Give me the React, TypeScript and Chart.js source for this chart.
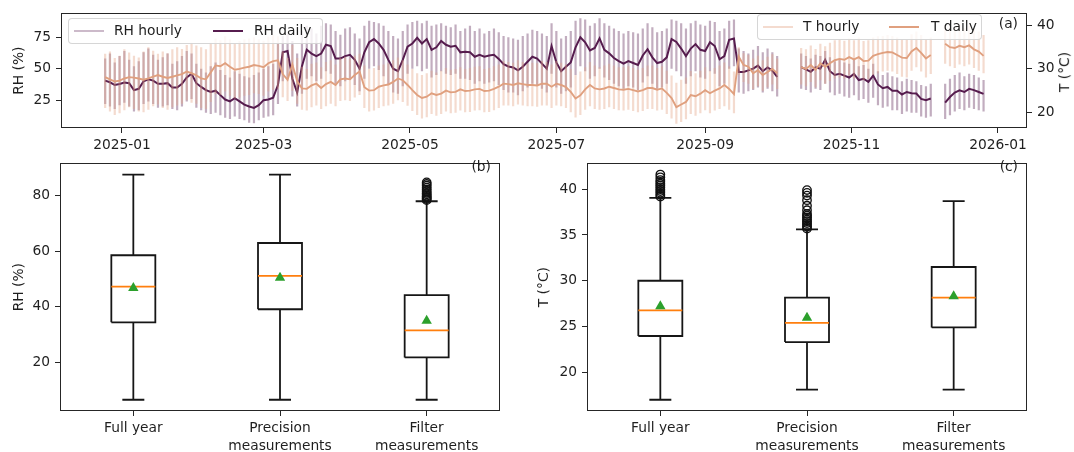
import React, { useEffect, useRef } from "react";
import { Chart, registerables } from "chart.js";

Chart.register(...registerables);

const FONT = "'DejaVu Sans', 'Liberation Sans', sans-serif";
const TEXT = "#1f1f1f";
const AXIS = "#262626";
const FONT_SIZE = 13.8;

// ---- Panel (a): time series, one sample every 2 days starting 2024-12-25 ----
// x values are days counted from 2025-01-01
const START_DAY = -7;
const STEP_DAYS = 2;
const MONTH_TICK_DAYS = [0, 59, 120, 181, 243, 304, 365];
const MONTH_TICK_LABELS = ["2025-01", "2025-03", "2025-05", "2025-07", "2025-09", "2025-11", "2026-01"];
const RH_TICKS = [25, 50, 75];
const T_TICKS = [20, 30, 40];
const SERIES_NAMES = ["RH hourly", "RH daily", "T hourly", "T daily"];

const RH_DAILY = [
  40.5, 39.2, 37, 37.8, 39, 38.5, 33, 34, 40, 41.5,
  40.5, 38, 38, 38.5, 35, 35, 38, 43, 46, 38.5,
  35.5, 33, 31.5, 32.5, 29, 25.5, 24, 26.5, 24, 21.5,
  20, 18.8, 21, 25, 25.5, 27, 37, 63, 64, 42,
  31, 52, 65, 62, 60, 62, 69, 68, 58, 58,
  60, 61, 57, 50, 63, 71, 73.5, 70, 65, 57,
  50, 48, 57, 67.5, 70, 74.5, 70, 73.5, 65, 67,
  72, 69, 67.5, 68.2, 63, 63.5, 63, 59.5, 61, 59.5,
  60.5, 61, 57.8, 53.5, 51.8, 51, 48.7, 51.5, 55.5, 59.5,
  58, 54, 50, 68, 55, 48, 51.5, 55, 67, 75,
  71, 64.5, 66.5, 74, 65, 62.2, 58.5, 56, 54, 56,
  54.5, 53, 60.5, 65.5, 59, 54.5, 55.5, 59, 73.5, 71.2,
  66, 60, 66, 69.5, 65, 64, 71, 68, 57.5, 60,
  73, 74, 47.4, 47.4, 48.7, 50, 52.5, 48, 51, 48.5,
  43.4, null, null, null, null, 51.3, 49.5, 47.5, 51, 50,
  57, 48, 45, 46, 44.5, 43, 45.8, 41, 42, 39.5,
  44.5, 37.5, 34.5, 35.5, 32.5, 32.5, 29.5, 31.5, 30.5, 30.3,
  26, 25, 26.3, null, null, 23, 27.5, 31, 32.8, 31.5,
  34, 33, 31.5, 30,
];

const RH_HOURLY_MAX = [
  58, 62, 55, 60, 64, 57, 52, 56, 63, 66,
  61, 57, 59, 62, 54, 56, 60, 64, 62, 54,
  50, 47, 52, 55, 49, 45, 43, 48, 46, 44,
  43, 45, 47, 50, 52, 54, 70, 76, 78, 72,
  62, 80, 84, 82, 78, 84, 86, 85, 80, 77,
  82, 83, 78, 74, 84, 88, 87, 86, 84, 80,
  76, 74, 80, 85, 87, 88, 86, 88, 84, 85,
  86, 84, 83, 85, 80, 82, 84, 80, 82, 78,
  80, 82, 79, 76, 75, 74, 73, 76, 78, 81,
  80, 78, 76, 86, 80, 74, 76, 80, 88, 90,
  89, 84, 86, 90, 86, 84, 82, 80, 78, 80,
  79, 78, 82, 86, 83, 79, 80, 82, 89, 88,
  86, 82, 86, 88, 85, 84, 88, 87, 80, 82,
  88, 89, 66, 64, 62, 65, 68, 63, 66, 63,
  60, null, null, null, null, 62, 60, 58, 61, 60,
  64, 59, 56, 57, 55, 54, 57, 52, 53, 50,
  54, 48, 45, 47, 44, 43, 40, 42, 41, 40,
  37, 36, 38, null, null, 38, 42, 45, 47, 44,
  46, 45, 43, 41,
];

const RH_HOURLY_MIN = [
  22, 20, 18, 21, 23, 20, 16, 17, 22, 24,
  22, 19, 20, 21, 18, 17, 20, 24, 26, 19,
  17, 15, 14, 15, 13, 11, 10, 12, 10, 9,
  7, 6.6, 9, 11, 12, 13, 22, 40, 42, 28,
  20, 30, 42, 44, 40, 42, 48, 46, 38, 36,
  40, 41, 37, 32, 42, 50, 52, 49, 44, 37,
  31, 30, 36, 46, 50, 52, 48, 50, 43, 45,
  48, 46, 45, 46, 42, 42, 41, 38, 40, 38,
  39, 40, 37, 33, 31, 31, 29, 32, 35, 38,
  37, 34, 31, 46, 35, 30, 32, 35, 45, 52,
  48, 42, 44, 50, 43, 41, 38, 36, 34, 36,
  35, 33, 39, 44, 38, 34, 35, 38, 50, 48,
  44, 38, 44, 48, 43, 42, 48, 46, 36, 38,
  50, 52, 31, 30, 32, 33, 35, 31, 34, 32,
  28, null, null, null, null, 34, 33, 31, 34, 33,
  38, 31, 29, 30, 28, 27, 29, 25, 26, 23,
  27, 21, 19, 20, 17, 17, 14, 16, 15, 15,
  12, 11, 12, null, null, 10, 13, 16, 18, 17,
  19, 18, 17, 16,
];

const T_DAILY = [
  28.1, 27.6, 27.1, 27.3, 27.8, 28.1, 28, 27.8, 27.5, 27.8,
  28.2, 28.6, 28.2, 27.9, 28.2, 28.5, 28.8, 29.4, 29, 28.5,
  27.8, 27.6, 29.2, 30.8, 30.6, 31.3, 30.5, 29.8, 30, 30.3,
  30.5, 30.9, 30.7, 30.4, 31.3, 31.8, 32, 28.8, 27.5, 31,
  27.2, 25.5, 25.4, 26.2, 26.6, 25.6, 26.5, 27, 26.3, 27.6,
  27.8, 27.6, 28.6, 29.4, 25.8, 25, 25.1, 25.9, 26.2, 26.4,
  27, 27.8, 27.4, 26.3, 25.1, 24, 23.3, 23.6, 24.4, 24,
  24.3, 25, 24.6, 24.7, 25.3, 24.9, 25, 25.3, 25.4, 24.9,
  25, 25.4, 25.9, 26.6, 26.5, 26.3, 26.7, 26.5, 26.3, 26.3,
  26.2, 26.6, 26.6, 25.9, 26.6, 26.3, 25.8, 24.7, 23.2, 23.9,
  25.3, 26.3, 25.5, 25.3, 25.5, 25.9, 25.6, 25.3, 25.2, 25.4,
  25.1, 24.8, 25.1, 25.6, 25.6, 25.2, 25.5, 24.5, 23.3, 21.2,
  21.8, 22.4, 24, 23.7, 24.3, 25.1, 24.4, 25, 25.5, 26.3,
  25.4, 24.2, 32.8, 30.9, 30.5, 29, 29.7, 28.6, 29.3, 30,
  29, null, null, null, null, 30.4, 30, 30.9, 29.8, 31.3,
  30.5, 31.3, 32, 32.3, 32.1, 32.7, 32.2, 32.7, 31.8, 31.9,
  33, 33.4, 33.7, 33.9, 33.8, 33.2, 32.6, 32.5, 34, 34.8,
  33.7, 32.4, 33.2, null, null, 35.8, 35, 34.8, 35.3, 35,
  35.4, 34.5, 34, 33,
];

const T_HOURLY_MAX = [
  33.5, 34, 32.5, 33, 34.5, 33.8, 33, 32.6, 34, 35,
  34.2, 33.5, 34, 33.6, 34.5, 35, 34.6, 35.5, 36, 35.4,
  35, 34.5, 36, 37, 36.6, 37.5, 36.8, 35.8, 36.4, 36.8,
  37, 37.3, 36.8, 36.5, 37.4, 37.8, 37.5, 34, 32.5, 35.5,
  32.5, 30.5, 30, 31.2, 31.5, 30.4, 31.6, 32, 31, 32.5,
  32.8, 32.3, 33, 33.5, 30.8, 30, 30.2, 30.8, 31, 31.3,
  32, 32.6, 32, 31, 30, 29, 28.6, 29, 29.6, 29.2,
  29.6, 30.2, 29.8, 30, 30.4, 30, 30.2, 30.5, 30.6, 30,
  30.2, 30.6, 31, 31.8, 31.6, 31.4, 32, 31.6, 31.2, 31.4,
  31.3, 31.8, 31.6, 31, 31.8, 31.4, 31, 30, 28.6, 29.4,
  30.4, 31.6, 30.8, 30.4, 30.8, 31.2, 30.8, 30.4, 30.4, 30.6,
  30.2, 29.8, 30.2, 30.8, 30.8, 30.2, 30.6, 29.6, 28.5, 26.8,
  27.5, 28, 29.5, 29, 29.6, 30.4, 29.6, 30.2, 30.8, 31.5,
  30.6, 29.4, 35, 33.6, 33.2, 32.4, 33, 32, 32.8, 33.4,
  32.4, null, null, null, null, 34.8, 34.5, 35.4, 34.6, 35.8,
  35.2, 36, 36.6, 36.8, 36.5, 37, 36.6, 37.2, 36.4, 36.6,
  37.2, 37.5, 37.6, 37.8, 37.6, 37.2, 36.8, 36.7, 38, 38.6,
  37.8, 36.8, 37.2, null, null, 39.8, 40.6, 39.6, 40.2, 39.4,
  40, 39.2, 38.6, 37.8,
];

const T_HOURLY_MIN = [
  21, 20.2, 19.4, 19.8, 20.5, 21.2, 20.8, 20.2, 20, 20.6,
  21.4, 21.8, 21, 20.6, 21.2, 21.6, 22, 22.8, 22.2, 22,
  21, 20.8, 22.4, 24.2, 24, 24.8, 23.8, 23.2, 23.4, 23.8,
  24, 24.4, 24.2, 23.8, 24.8, 25.2, 25.5, 23.5, 22.6, 25,
  22, 20.6, 20.4, 21.2, 21.6, 20.8, 21.4, 22, 21.4, 22.6,
  22.8, 22.6, 23.4, 24, 21, 20.2, 20.4, 21, 21.4, 21.6,
  22, 22.8, 22.4, 21.5, 20.3, 19.4, 18.6, 18.9, 19.6, 19.2,
  19.6, 20.2, 19.8, 19.9, 20.4, 20, 20.1, 20.4, 20.5, 20,
  20.1, 20.5, 21, 21.6, 21.6, 21.4, 21.8, 21.6, 21.4, 21.4,
  21.3, 21.6, 21.6, 21, 21.6, 21.4, 21, 20, 18.8, 19.4,
  20.6, 21.4, 20.8, 20.6, 20.8, 21.2, 20.8, 20.5, 20.4, 20.6,
  20.3, 20, 20.3, 20.8, 20.8, 20.4, 20.6, 19.6, 18.6, 17.4,
  17.8, 18.4, 19.6, 19.2, 19.8, 20.5, 19.8, 20.4, 20.8, 21.4,
  20.6, 19.8, 28.6, 27, 26.6, 25.4, 26, 25, 25.8, 26.4,
  25.4, null, null, null, null, 26.4, 26, 27, 25.8, 27.4,
  26.6, 27.2, 27.8, 28, 27.8, 28.4, 27.8, 28.4, 27.4, 27.6,
  28.6, 29, 29.4, 29.6, 29.4, 28.8, 28.2, 28, 29.6, 30.4,
  29.4, 28, 28.8, null, null, 31.2, 30.6, 30.2, 31, 30.6,
  31, 30.2, 29.6, 29,
];

// ---- Panels (b) and (c): box plot statistics ----
const BOX_LABELS = [["Full year"], ["Precision", "measurements"], ["Filter", "measurements"]];

const RH_WHISKER_LOW = [6.6, 6.6, 6.6];
const RH_Q1 = [34.4, 39.1, 21.8];
const RH_MEDIAN = [47.2, 51.1, 31.5];
const RH_Q3 = [58.5, 62.9, 44.2];
const RH_WHISKER_HIGH = [87.5, 87.5, 77.9];
const RH_MEAN = [46.7, 50.4, 35.0];
const RH_OUTLIERS = [[], [], [78.3, 78.7, 79.1, 79.5, 79.9, 80.4, 80.9, 81.5, 82.1, 82.8, 83.5, 84.1, 84.7]];
const RH_BOX_TICKS = [20, 40, 60, 80];

const T_WHISKER_LOW = [17.0, 18.1, 18.1];
const T_Q1 = [23.96, 23.3, 24.9];
const T_MEDIAN = [26.77, 25.4, 28.16];
const T_Q3 = [30.0, 28.16, 31.5];
const T_WHISKER_HIGH = [39.06, 35.6, 38.7];
const T_MEAN = [27.2, 25.95, 28.3];
const T_OUTLIERS = [
  [39.2, 39.4, 39.6, 39.8, 40.0, 40.2, 40.4, 40.6, 40.8, 41.0, 41.3, 41.6],
  [35.7, 35.9, 36.1, 36.3, 36.5, 36.7, 36.9, 37.1, 37.3, 37.7, 38.2, 38.8, 39.3, 39.6, 39.9],
  [],
];
const T_BOX_TICKS = [20, 25, 30, 35, 40];

// colours
const RH_COLOR = "#561c4e";
const RH_HOURLY_COLOR = "rgba(86, 28, 78, 0.36)";
const T_COLOR = "#e0a07f";
const T_HOURLY_COLOR = "rgba(228, 166, 134, 0.4)";
const MEDIAN_COLOR = "#ff7f0e";
const MEAN_COLOR = "#2ca02c";
const BOX_HALF = 0.15;
const CAP_HALF = 0.075;

Chart.defaults.font.family = FONT;
Chart.defaults.font.size = FONT_SIZE;
Chart.defaults.color = TEXT;

type Pt = { x: number; y: number | null };

const dayAt = (i: number) => START_DAY + STEP_DAYS * i;

function dailyPoints(vals: (number | null)[]): Pt[] {
  return vals.map((v, i) => ({ x: dayAt(i), y: v }));
}

// hourly spread of each sampled day: a vertical stroke from its low to its high
function hourlyPoints(hi: (number | null)[], lo: (number | null)[]): Pt[] {
  const pts: Pt[] = [];
  hi.forEach((h, i) => {
    const d = dayAt(i);
    pts.push({ x: d, y: lo[i] }, { x: d, y: h }, { x: d, y: null });
  });
  return pts;
}

const framePlugin = {
  id: "frame",
  afterDatasetsDraw(chart: any) {
    const { ctx, chartArea: a } = chart;
    ctx.save();
    ctx.strokeStyle = AXIS;
    ctx.lineWidth = 1;
    ctx.strokeRect(Math.round(a.left) + 0.5, Math.round(a.top) + 0.5, Math.round(a.right - a.left) - 1, Math.round(a.bottom - a.top) - 1);
    ctx.restore();
  },
};

const tickGrid = { drawOnChartArea: false, drawTicks: true, tickLength: 5, color: AXIS, lineWidth: 1 };

function fixedTicks(values: number[]) {
  return (scale: any) => {
    scale.ticks = values.map((v) => ({ value: v }));
  };
}

function seriesConfig(): any {
  return {
    type: "line",
    data: {
      datasets: [
        { label: SERIES_NAMES[3], data: dailyPoints(T_DAILY), yAxisID: "yT", borderColor: T_COLOR, borderWidth: 1.9, order: 0 },
        { label: SERIES_NAMES[2], data: hourlyPoints(T_HOURLY_MAX, T_HOURLY_MIN), yAxisID: "yT", borderColor: T_HOURLY_COLOR, borderWidth: 2.2, order: 1 },
        { label: SERIES_NAMES[1], data: dailyPoints(RH_DAILY), yAxisID: "yRH", borderColor: RH_COLOR, borderWidth: 2, order: 2 },
        { label: SERIES_NAMES[0], data: hourlyPoints(RH_HOURLY_MAX, RH_HOURLY_MIN), yAxisID: "yRH", borderColor: RH_HOURLY_COLOR, borderWidth: 2.2, order: 3 },
      ],
    },
    options: {
      animation: false,
      responsive: false,
      events: [],
      spanGaps: false,
      elements: { point: { radius: 0 }, line: { tension: 0, fill: false } },
      layout: { padding: { top: 12, left: 0, right: 0, bottom: 0 } },
      plugins: { legend: { display: false }, tooltip: { enabled: false } },
      scales: {
        x: {
          type: "linear",
          min: -25.4,
          max: 377.1,
          afterBuildTicks: fixedTicks(MONTH_TICK_DAYS),
          afterFit: (s: any) => { s.height = 30; },
          ticks: { callback: (_v: any, i: number) => MONTH_TICK_LABELS[i], autoSkip: false, maxRotation: 0, padding: 4, color: TEXT },
          grid: tickGrid,
          border: { display: false },
        },
        yRH: {
          type: "linear",
          position: "left",
          min: 2.9,
          max: 94,
          afterBuildTicks: fixedTicks(RH_TICKS),
          afterFit: (s: any) => { s.width = 61; },
          ticks: { padding: 5, color: TEXT },
          grid: tickGrid,
          border: { display: false },
          title: { display: true, text: "RH (%)", color: TEXT, padding: { top: 10.7, bottom: 0 } },
        },
        yT: {
          type: "linear",
          position: "right",
          min: 16.4,
          max: 42.8,
          afterBuildTicks: fixedTicks(T_TICKS),
          afterFit: (s: any) => { s.width = 47; },
          ticks: { padding: 5, color: TEXT },
          grid: tickGrid,
          border: { display: false },
        },
      },
    },
    plugins: [framePlugin],
  };
}

type BoxStats = {
  low: number[]; q1: number[]; med: number[]; q3: number[]; high: number[]; mean: number[]; outliers: number[][];
  yMin: number; yMax: number; yTicks: number[]; title: string; titlePad: number; axisWidth: number; padRight: number;
};

function boxConfig(p: BoxStats): any {
  const boxPts: Pt[] = [];
  const whiskerPts: Pt[] = [];
  const medianPts: Pt[] = [];
  const meanPts: Pt[] = [];
  const outlierPts: Pt[] = [];
  BOX_LABELS.forEach((_, i) => {
    const x = i + 1;
    boxPts.push(
      { x: x - BOX_HALF, y: p.q1[i] }, { x: x + BOX_HALF, y: p.q1[i] },
      { x: x + BOX_HALF, y: p.q3[i] }, { x: x - BOX_HALF, y: p.q3[i] },
      { x: x - BOX_HALF, y: p.q1[i] }, { x, y: null },
    );
    whiskerPts.push(
      { x, y: p.q3[i] }, { x, y: p.high[i] }, { x, y: null },
      { x: x - CAP_HALF, y: p.high[i] }, { x: x + CAP_HALF, y: p.high[i] }, { x, y: null },
      { x, y: p.q1[i] }, { x, y: p.low[i] }, { x, y: null },
      { x: x - CAP_HALF, y: p.low[i] }, { x: x + CAP_HALF, y: p.low[i] }, { x, y: null },
    );
    medianPts.push({ x: x - BOX_HALF, y: p.med[i] }, { x: x + BOX_HALF, y: p.med[i] }, { x, y: null });
    meanPts.push({ x, y: p.mean[i] });
    p.outliers[i].forEach((v) => outlierPts.push({ x, y: v }));
  });

  return {
    type: "scatter",
    data: {
      datasets: [
        { data: meanPts, pointStyle: "triangle", pointRadius: 6, backgroundColor: MEAN_COLOR, borderColor: MEAN_COLOR, borderWidth: 0, showLine: false, order: 0 },
        { data: medianPts, showLine: true, borderColor: MEDIAN_COLOR, borderWidth: 1.8, pointRadius: 0, order: 1 },
        { data: outlierPts, pointStyle: "circle", pointRadius: 4.2, borderColor: "#111", backgroundColor: "rgba(0,0,0,0)", borderWidth: 1.4, showLine: false, order: 2 },
        { data: boxPts, showLine: true, borderColor: "#161616", borderWidth: 1.8, pointRadius: 0, order: 3 },
        { data: whiskerPts, showLine: true, borderColor: "#161616", borderWidth: 1.8, pointRadius: 0, order: 4 },
      ],
    },
    options: {
      animation: false,
      responsive: false,
      events: [],
      spanGaps: false,
      elements: { line: { tension: 0, fill: false } },
      layout: { padding: { top: 3, left: 0, right: p.padRight, bottom: 0 } },
      plugins: { legend: { display: false }, tooltip: { enabled: false } },
      scales: {
        x: {
          type: "linear",
          min: 0.5,
          max: 3.5,
          afterBuildTicks: fixedTicks([1, 2, 3]),
          afterFit: (s: any) => { s.height = 41; },
          ticks: { callback: (_v: any, i: number) => BOX_LABELS[i], autoSkip: false, maxRotation: 0, padding: 4, color: TEXT, font: { lineHeight: 1.26 } },
          grid: tickGrid,
          border: { display: false },
        },
        y: {
          type: "linear",
          min: p.yMin,
          max: p.yMax,
          afterBuildTicks: fixedTicks(p.yTicks),
          afterFit: (s: any) => { s.width = p.axisWidth; },
          ticks: { padding: 5, color: TEXT },
          grid: tickGrid,
          border: { display: false },
          title: { display: true, text: p.title, color: TEXT, padding: { top: p.titlePad, bottom: 0 } },
        },
      },
    },
    plugins: [framePlugin],
  };
}

type LegendItem = { label: string; color: string; width: number; swatchX: number; textX: number };

function LegendBox({ left, top, width, items }: { left: number; top: number; width: number; items: LegendItem[] }) {
  return (
    <div
      style={{
        position: "absolute", left, top, width, height: 26, boxSizing: "border-box",
        border: "1px solid rgba(204,204,204,0.8)", borderRadius: 4, background: "rgba(255,255,255,0.8)",
      }}
    >
      {items.map((it) => (
        <React.Fragment key={it.label}>
          <div style={{ position: "absolute", left: it.swatchX, top: 12 - it.width / 2, width: 30, height: it.width, background: it.color }} />
          <span style={{ position: "absolute", left: it.textX, top: 12, transform: "translateY(-50%)", lineHeight: 1, whiteSpace: "nowrap" }}>
            {it.label}
          </span>
        </React.Fragment>
      ))}
    </div>
  );
}

const labelStyle: React.CSSProperties = { position: "absolute", lineHeight: 1, whiteSpace: "nowrap", transform: "translate(-100%, -50%)" };

export default function App() {
  const aRef = useRef<HTMLCanvasElement>(null);
  const bRef = useRef<HTMLCanvasElement>(null);
  const cRef = useRef<HTMLCanvasElement>(null);

  useEffect(() => {
    const charts = [
      new Chart(aRef.current!, seriesConfig()),
      new Chart(bRef.current!, boxConfig({
        low: RH_WHISKER_LOW, q1: RH_Q1, med: RH_MEDIAN, q3: RH_Q3, high: RH_WHISKER_HIGH, mean: RH_MEAN, outliers: RH_OUTLIERS,
        yMin: 2.55, yMax: 91.55, yTicks: RH_BOX_TICKS, title: "RH (%)", titlePad: 10.7, axisWidth: 60, padRight: 40,
      })),
      new Chart(cRef.current!, boxConfig({
        low: T_WHISKER_LOW, q1: T_Q1, med: T_MEDIAN, q3: T_Q3, high: T_WHISKER_HIGH, mean: T_MEAN, outliers: T_OUTLIERS,
        yMin: 15.77, yMax: 42.83, yTicks: T_BOX_TICKS, title: "T (°C)", titlePad: 6.3, axisWidth: 57, padRight: 47,
      })),
    ];
    return () => charts.forEach((c) => c.destroy());
  }, []);

  return (
    <div
      style={{
        position: "fixed", left: 0, top: 0, width: 1074, height: 452, background: "#fff", overflow: "hidden",
        fontFamily: FONT, fontSize: FONT_SIZE, color: TEXT,
      }}
    >
      <canvas ref={aRef} width={1074} height={158} style={{ position: "absolute", left: 0, top: 0 }} />
      <canvas ref={bRef} width={540} height={302} style={{ position: "absolute", left: 0, top: 150 }} />
      <canvas ref={cRef} width={544} height={302} style={{ position: "absolute", left: 530, top: 150 }} />

      <LegendBox
        left={68}
        top={18}
        width={255}
        items={[
          { label: SERIES_NAMES[0], color: "rgba(86, 28, 78, 0.3)", width: 1.5, swatchX: 5, textX: 45 },
          { label: SERIES_NAMES[1], color: RH_COLOR, width: 2, swatchX: 144, textX: 185 },
        ]}
      />
      <LegendBox
        left={757}
        top={14}
        width={225}
        items={[
          { label: SERIES_NAMES[2], color: T_HOURLY_COLOR, width: 1.5, swatchX: 5, textX: 45 },
          { label: SERIES_NAMES[3], color: T_COLOR, width: 2, swatchX: 131, textX: 173 },
        ]}
      />

      <span style={{ ...labelStyle, left: 1018, top: 24 }}>(a)</span>
      <span style={{ ...labelStyle, left: 491, top: 167 }}>(b)</span>
      <span style={{ ...labelStyle, left: 1018, top: 167 }}>(c)</span>
      <span
        style={{
          position: "absolute", left: 1065, top: 72, lineHeight: 1, whiteSpace: "nowrap",
          transform: "translate(-50%, -50%) rotate(-90deg)",
        }}
      >
        T (°C)
      </span>
    </div>
  );
}
